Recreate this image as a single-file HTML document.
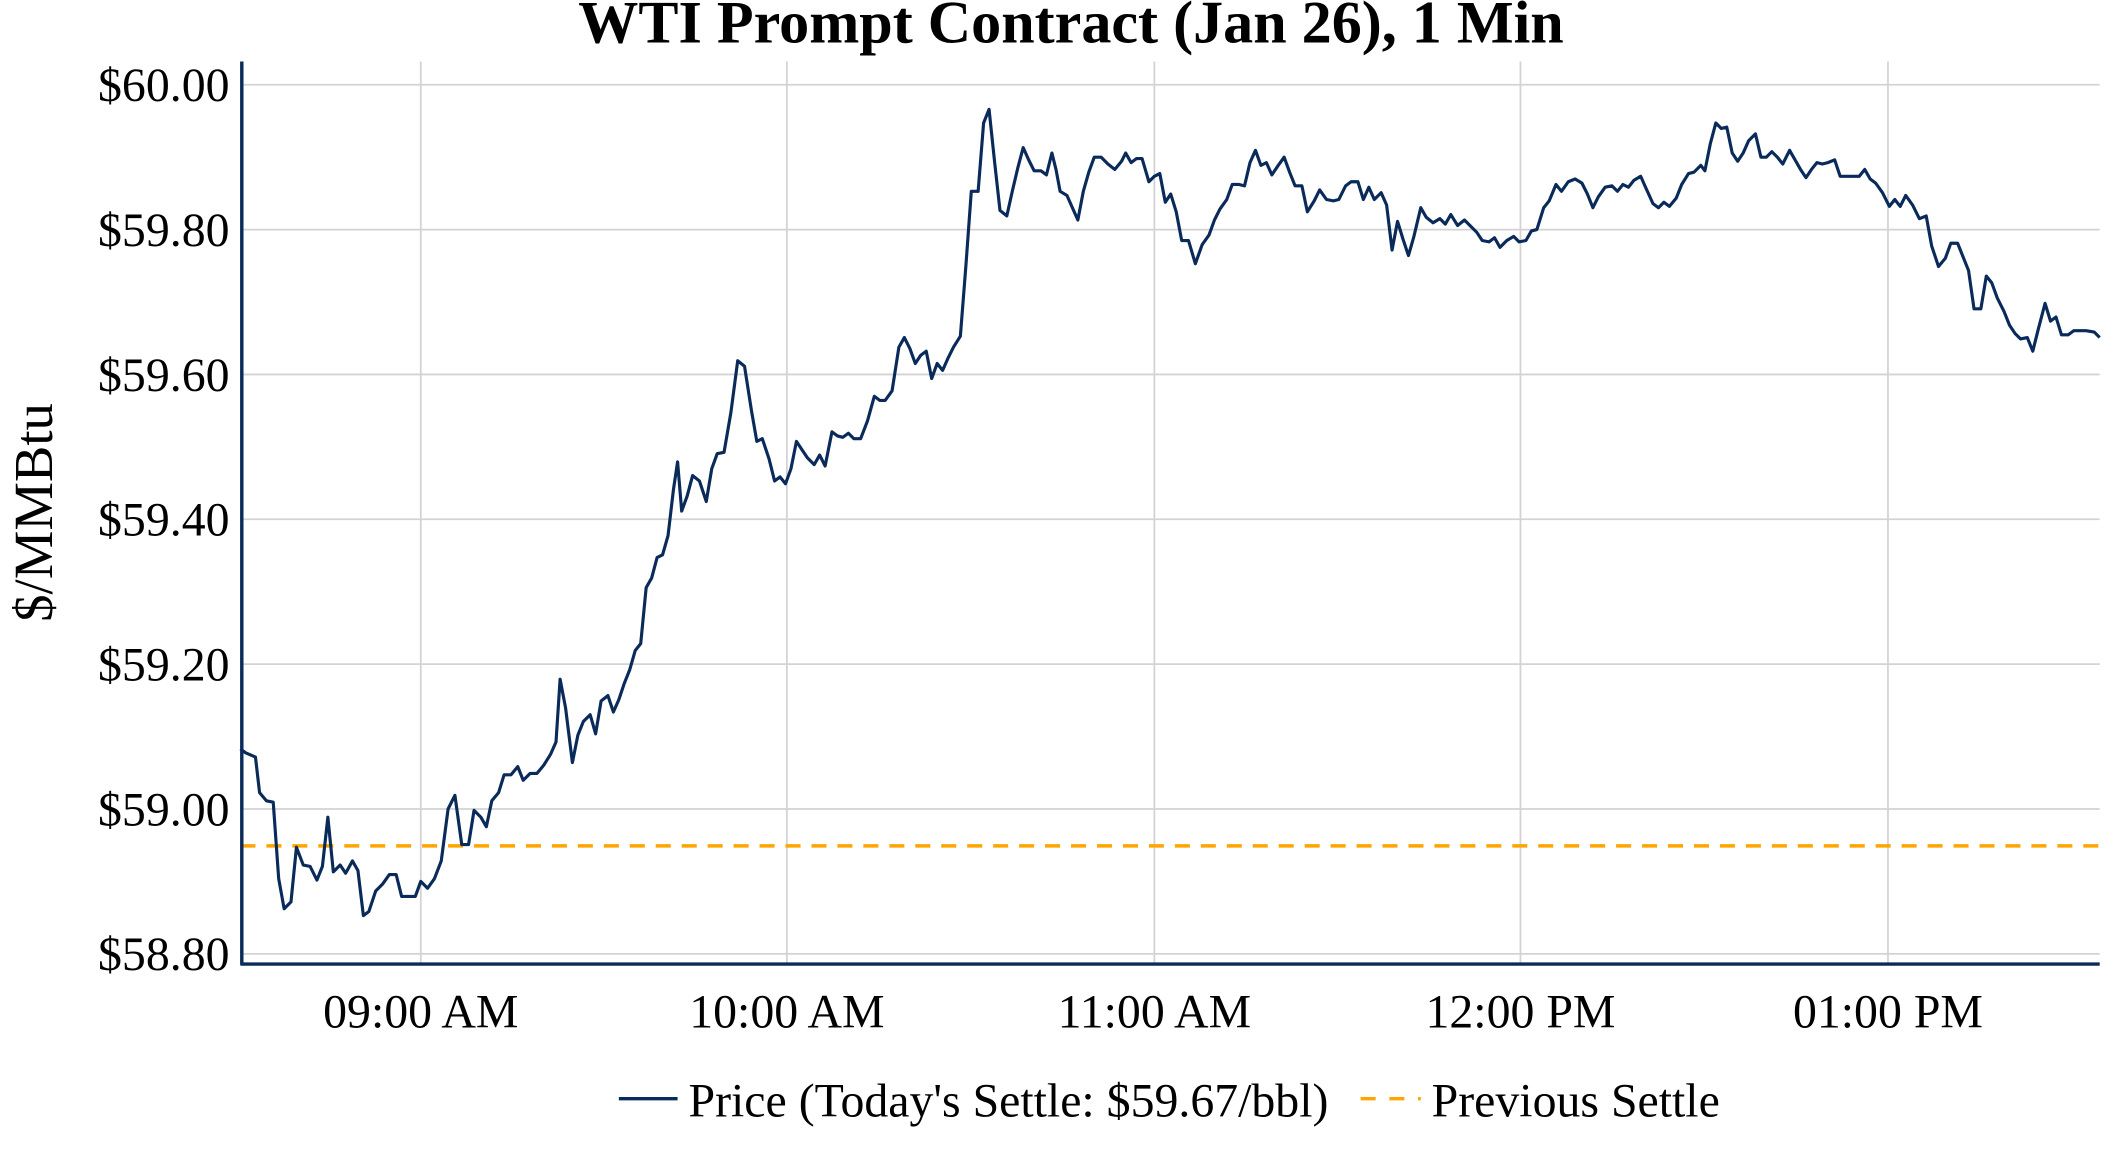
<!DOCTYPE html>
<html><head><meta charset="utf-8"><style>html,body{margin:0;padding:0;background:#fff;overflow:hidden}svg{display:block}text{font-family:"Liberation Serif",serif;fill:#000}</style></head>
<body>
<svg width="2112" height="1152" viewBox="0 0 1546 843" preserveAspectRatio="none" xmlns="http://www.w3.org/2000/svg">
<text x="784" y="31" font-size="44" font-weight="bold" text-anchor="middle">WTI Prompt Contract (Jan 26), 1 Min</text>
<g stroke="#d3d3d3" stroke-width="1.3">
<line x1="308" y1="45" x2="308" y2="705"/><line x1="576" y1="45" x2="576" y2="705"/><line x1="845" y1="45" x2="845" y2="705"/><line x1="1113" y1="45" x2="1113" y2="705"/><line x1="1382" y1="45" x2="1382" y2="705"/>
<line x1="177" y1="62" x2="1537" y2="62"/><line x1="177" y1="168" x2="1537" y2="168"/><line x1="177" y1="274" x2="1537" y2="274"/><line x1="177" y1="380" x2="1537" y2="380"/><line x1="177" y1="486" x2="1537" y2="486"/><line x1="177" y1="592" x2="1537" y2="592"/><line x1="177" y1="698" x2="1537" y2="698"/>
</g>
<g font-size="35" text-anchor="end">
<text x="168" y="74">$60.00</text><text x="168" y="180">$59.80</text><text x="168" y="286">$59.60</text><text x="168" y="392">$59.40</text><text x="168" y="498">$59.20</text><text x="168" y="604">$59.00</text><text x="168" y="710">$58.80</text>
</g>
<g font-size="35" text-anchor="middle">
<text x="308" y="752">09:00 AM</text><text x="576" y="752">10:00 AM</text><text x="845" y="752">11:00 AM</text><text x="1113" y="752">12:00 PM</text><text x="1382" y="752">01:00 PM</text>
</g>
<text transform="translate(38,375) rotate(-90)" font-size="40" text-anchor="middle">$/MMBtu</text>
<line x1="176" y1="619" x2="1537" y2="619" stroke="#ffa500" stroke-width="2.5" stroke-dasharray="11,8"/>
<polyline fill="none" stroke="#0a2a5a" stroke-width="2.3" stroke-linejoin="round" points="176,548 180,551 187,554 190,580 195,586 200,587 204,643 208,665 213,660 217,620 222,633 227,634 232,644 236,634 240,598 244,638 249,633 253,639 258,630 262,637 266,670 270,667 275,652 280,647 285,640 290,640 294,656 300,656 304,656 308,645 313,650 318,643 323,630 328,592 333,582 338,618 343,618 347,593 352,598 356,605 360,586 365,580 369,567 374,567 379,561 383,571 388,566 393,566 398,560 403,552 407,543 410,497 414,518 419,558 423,538 427,528 432,523 436,537 440,513 445,509 449,521 453,512 457,500 461,490 465,476 469,471 473,430 477,423 481,408 485,406 489,392 493,358 496,338 499,374 503,363 507,348 512,352 517,367 521,343 525,332 530,331 535,302 540,264 545,268 550,300 554,323 558,321 563,336 567,352 571,349 575,354 579,343 583,323 587,329 591,335 596,340 600,333 604,341 609,316 613,319 617,320 621,317 625,321 630,321 635,308 640,290 644,293 648,293 653,286 658,254 662,247 666,255 670,266 674,260 678,257 682,277 686,266 690,271 694,262 698,254 703,246 707,195 711,140 716,140 720,90 724,80 728,118 732,154 737,158 741,140 745,123 749,108 753,117 757,125 762,125 766,128 770,112 773,124 776,140 781,143 785,152 789,161 793,140 797,126 801,115 806,115 811,120 816,124 821,118 824,112 828,119 832,116 836,116 841,133 845,129 849,127 853,148 857,142 861,155 865,176 870,176 875,193 880,179 885,172 889,161 893,153 898,146 902,135 907,135 911,136 915,119 919,110 923,121 927,119 931,128 935,122 940,115 944,126 948,136 953,136 957,155 962,147 966,139 971,146 976,147 980,146 985,136 989,133 994,133 998,146 1002,137 1006,146 1011,141 1015,150 1019,183 1023,162 1027,175 1031,187 1035,173 1040,152 1044,159 1049,163 1054,160 1058,164 1062,157 1067,165 1072,161 1076,165 1081,170 1085,176 1090,177 1094,174 1098,181 1103,176 1108,173 1112,177 1117,176 1121,169 1125,168 1130,152 1134,147 1139,135 1143,140 1148,133 1153,131 1158,134 1162,142 1166,152 1170,144 1175,137 1180,136 1184,140 1188,135 1192,137 1196,132 1201,129 1205,138 1210,149 1214,152 1218,148 1222,151 1227,145 1231,135 1236,127 1240,126 1245,121 1248,125 1252,105 1256,90 1260,94 1264,93 1268,112 1272,118 1276,112 1280,103 1285,98 1289,115 1293,115 1297,111 1301,115 1305,120 1310,110 1314,117 1318,124 1322,130 1326,124 1330,119 1334,120 1338,119 1343,117 1347,129 1352,129 1357,129 1361,129 1365,124 1369,131 1373,134 1378,141 1383,151 1387,146 1391,151 1395,143 1400,150 1405,160 1410,158 1414,180 1419,195 1424,189 1428,178 1433,178 1437,188 1441,198 1445,226 1450,226 1454,202 1458,207 1462,218 1467,228 1471,238 1475,244 1479,248 1484,247 1488,257 1492,241 1497,222 1501,235 1505,232 1509,245 1514,245 1518,242 1522,242 1527,242 1533,243 1537,247"/>
<line x1="177" y1="45" x2="177" y2="706" stroke="#0a2a5a" stroke-width="2.5"/>
<line x1="176" y1="705.5" x2="1537" y2="705.5" stroke="#0a2a5a" stroke-width="2.5"/>
<line x1="453" y1="804" x2="496" y2="804" stroke="#0a2a5a" stroke-width="2.5"/>
<text x="504" y="817" font-size="35">Price (Today's Settle: $59.67/bbl)</text>
<line x1="996" y1="804" x2="1040" y2="804" stroke="#ffa500" stroke-width="2.5" stroke-dasharray="11,10"/>
<text x="1048" y="817" font-size="35">Previous Settle</text>
</svg>
</body></html>
